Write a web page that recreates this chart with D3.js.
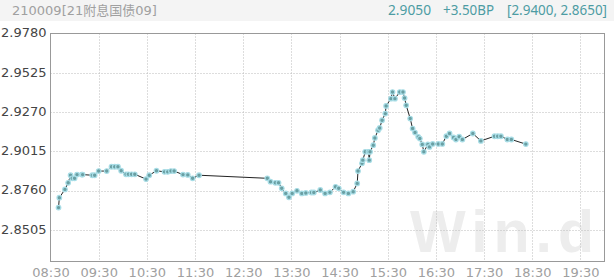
<!DOCTYPE html>
<html>
<head>
<meta charset="utf-8">
<script src="https://cdn.jsdelivr.net/npm/d3@7"></script>
<style>
  body { margin: 0; background: #fff; }
  svg { display: block; font-family: "DejaVu Sans", "Noto Sans CJK SC", sans-serif; }
</style>
</head>
<body>
<div id="chart"></div>
<script>
const title = "210009[21附息国债09]";
const lastValue = "2.9050";
const change = "+3.50BP";
const range = "[2.9400, 2.8650]";

const yTicks = [2.9780, 2.9525, 2.9270, 2.9015, 2.8760, 2.8505];
const xTicks = ["08:30", "09:30", "10:30", "11:30", "12:30", "13:30", "14:30", "15:30", "16:30", "17:30", "18:30", "19:30"];

const times = [
  "08:40", "08:41", "08:48", "08:52", "08:55", "08:57", "09:00", "09:03", "09:09", "09:10",
  "09:22", "09:25", "09:30", "09:40", "09:46", "09:50", "09:54", "09:58", "10:04", "10:07",
  "10:11", "10:15", "10:29", "10:33", "10:42", "10:52", "10:56", "11:00", "11:04", "11:15",
  "11:21", "11:27", "11:35", "13:00", "13:04", "13:10", "13:14", "13:18", "13:23", "13:27",
  "13:31", "13:37", "13:43", "13:48", "13:55", "13:58", "14:06", "14:12", "14:18", "14:25",
  "14:29", "14:35", "14:41", "14:47", "14:52", "14:53", "14:58", "14:59", "15:02", "15:06",
  "15:07", "15:08", "15:12", "15:14", "15:18", "15:20", "15:23", "15:27", "15:28", "15:34",
  "15:36", "15:39", "15:45", "15:49", "15:51", "15:53", "15:58", "16:01", "16:04", "16:08",
  "16:10", "16:13", "16:15", "16:20", "16:22", "16:26", "16:33", "16:38", "16:43", "16:47",
  "16:52", "16:55", "16:59", "17:03", "17:16", "17:26", "17:43", "17:47", "17:51", "17:59",
  "18:04", "18:22"
];
const values = [
  2.8650, 2.8714, 2.8768, 2.8811, 2.8860, 2.8840, 2.8840, 2.8864, 2.8864, 2.8864,
  2.8860, 2.8860, 2.8887, 2.8887, 2.8915, 2.8915, 2.8915, 2.8889, 2.8866, 2.8866,
  2.8866, 2.8866, 2.8835, 2.8860, 2.8889, 2.8882, 2.8882, 2.8887, 2.8887, 2.8864,
  2.8862, 2.8840, 2.8860, 2.8840, 2.8818, 2.8811, 2.8811, 2.8775, 2.8742, 2.8717,
  2.8742, 2.8759, 2.8742, 2.8745, 2.8748, 2.8748, 2.8764, 2.8742, 2.8749, 2.8785,
  2.8775, 2.8749, 2.8742, 2.8753, 2.8807, 2.8887, 2.8937, 2.8958, 2.9012, 2.9012,
  2.8958, 2.9012, 2.9055, 2.9102, 2.9152, 2.9167, 2.9217, 2.9260, 2.9310, 2.9357,
  2.9400, 2.9357, 2.9400, 2.9400, 2.9361, 2.9314, 2.9228, 2.9163, 2.9137, 2.9109,
  2.9098, 2.9060, 2.9012, 2.9060, 2.9044, 2.9063, 2.9063, 2.9063, 2.9113, 2.9131,
  2.9105, 2.9092, 2.9110, 2.9092, 2.9131, 2.9083, 2.9113, 2.9113, 2.9113, 2.9092,
  2.9092, 2.9062
];

const width = 614, height = 279;
const plot = { left: 50.5, right: 604.5, top: 33.5, bottom: 261.5 };

const parse = d3.timeParse("%H:%M");
const points = times.map((t, i) => ({ t: parse(t), v: values[i] }));

const svg = d3.select("#chart").append("svg")
  .attr("width", width)
  .attr("height", height);

// header band
svg.append("rect").attr("x", 0).attr("y", 0).attr("width", width).attr("height", 21).attr("fill", "#f4f4f4");
svg.append("text").attr("x", 12).attr("y", 15).attr("font-size", 13).attr("fill", "#a0a0a0").text(title);
const teal = "#4d9ca3";
const headerBits = [
  { text: lastValue, x: 388, w: 43 },
  { text: change, x: 443, w: 51 },
  { text: range, x: 507, w: 100 }
];
svg.selectAll("text.hdr").data(headerBits).join("text").attr("class", "hdr")
  .attr("x", d => d.x).attr("y", 15).attr("font-size", 14)
  .attr("font-family", "Noto Sans, sans-serif").attr("fill", teal)
  .attr("textLength", d => d.w).attr("lengthAdjust", "spacingAndGlyphs")
  .text(d => d.text);

// watermark
svg.append("text").attr("x", 410).attr("y", 252).attr("font-size", 59).attr("font-weight", "bold")
  .attr("font-family", "Liberation Sans, Arial, sans-serif")
  .attr("fill", "#ededed").attr("letter-spacing", 6).text("Win.d");

const x = d3.scaleTime()
  .domain([parse("08:30"), parse("20:00")])
  .range([plot.left, plot.right]);
const y = d3.scaleLinear()
  .domain([2.8300, 2.9780])
  .range([plot.bottom, plot.top]);

// grid
const grid = svg.append("g").attr("stroke", "#bbb").attr("stroke-dasharray", "1,2").attr("stroke-width", 1);
grid.selectAll("line.v").data(xTicks.slice(1)).join("line").attr("class", "v")
  .attr("x1", d => Math.round(x(parse(d))) + 0.5).attr("x2", d => Math.round(x(parse(d))) + 0.5)
  .attr("y1", plot.top).attr("y2", plot.bottom);
grid.selectAll("line.h").data(yTicks.slice(1)).join("line").attr("class", "h")
  .attr("y1", d => Math.round(y(d)) + 0.5).attr("y2", d => Math.round(y(d)) + 0.5)
  .attr("x1", plot.left).attr("x2", plot.right);

// frame
svg.append("rect").attr("x", plot.left).attr("y", plot.top)
  .attr("width", plot.right - plot.left).attr("height", plot.bottom - plot.top)
  .attr("fill", "none").attr("stroke", "#999").attr("stroke-width", 1);

// axes labels
const yAxis = d3.axisLeft(y).tickValues(yTicks).tickFormat(d3.format(".4f")).tickSize(0).tickPadding(4);
svg.append("g").attr("transform", `translate(${plot.left},0)`).call(yAxis)
  .call(g => g.select(".domain").remove())
  .call(g => g.selectAll("text").attr("font-size", 13).attr("fill", "#444")
    .attr("font-family", "DejaVu Sans, sans-serif").attr("dy", "0.25em"));

const xAxis = d3.axisBottom(x).tickValues(xTicks.map(parse)).tickFormat(d3.timeFormat("%H:%M")).tickSize(0).tickPadding(6);
svg.append("g").attr("transform", `translate(0,${plot.bottom})`).call(xAxis)
  .call(g => g.select(".domain").remove())
  .call(g => g.selectAll("text").attr("font-size", 13).attr("fill", "#a0a0a0")
    .attr("font-family", "DejaVu Sans, sans-serif"));

// series
const line = d3.line().x(d => x(d.t)).y(d => y(d.v));
svg.append("path").datum(points).attr("d", line)
  .attr("fill", "none").attr("stroke", "#222").attr("stroke-width", 1);

svg.append("g").selectAll("circle").data(points).join("circle")
  .attr("cx", d => x(d.t)).attr("cy", d => y(d.v)).attr("r", 2.3)
  .attr("fill", "#6a9fa3").attr("stroke", "#a8dde6").attr("stroke-width", 1.2);
</script>
</body>
</html>
